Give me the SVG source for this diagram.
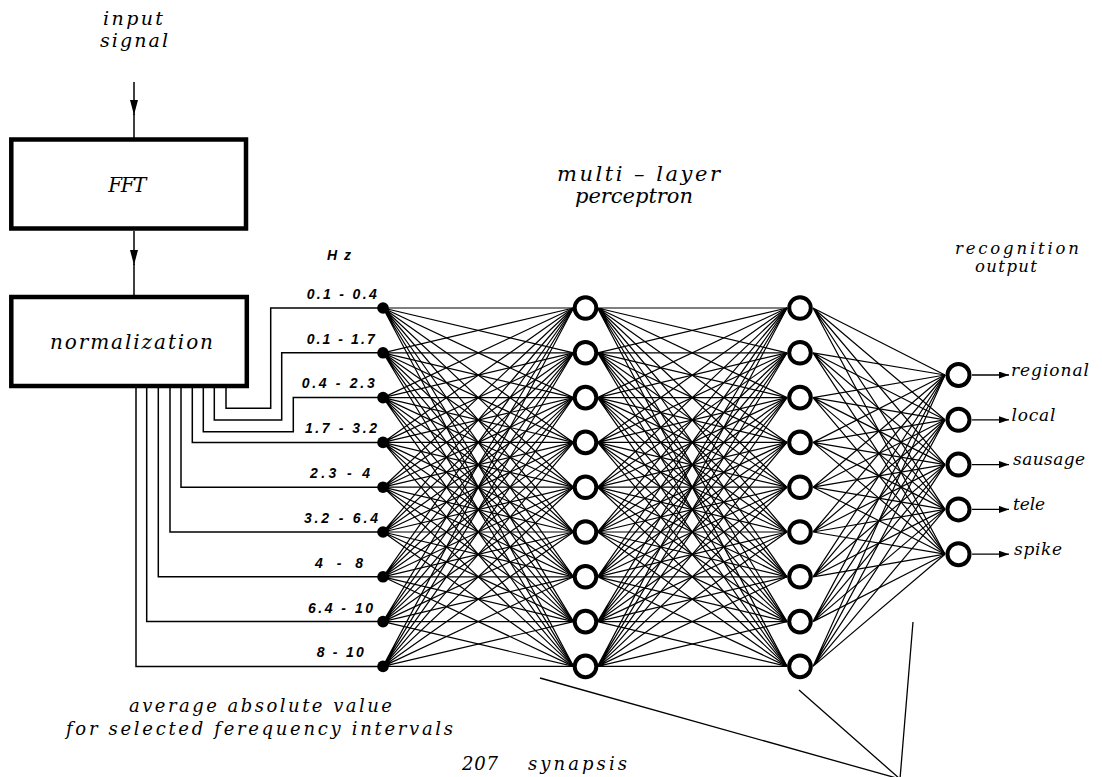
<svg xmlns="http://www.w3.org/2000/svg" width="1102" height="777" viewBox="0 0 1102 777">
<defs>
<style>
.box{fill:#fff;stroke:#000;stroke-width:4.5}
.t{font-family:"DejaVu Serif","Liberation Serif",serif;font-style:italic;fill:#000}
.hz{font-family:"Liberation Sans",Arial,sans-serif;font-style:italic;font-weight:bold;font-size:14px;fill:#000}
.wire{fill:none;stroke:#000;stroke-width:1.5}
.syn{fill:none;stroke:#000;stroke-width:1.2}
.ptr{fill:none;stroke:#000;stroke-width:1.3}
.dot{fill:#000}
.neuron{fill:#fff;stroke:#000;stroke-width:4}
</style>
<marker id="arrV" viewBox="0 0 15 8" markerWidth="15" markerHeight="8" refX="15" refY="4" orient="auto" markerUnits="userSpaceOnUse"><path d="M0 0L15 4L0 8z" fill="#000"/></marker>
<marker id="arrO" viewBox="0 0 10 7" markerWidth="10" markerHeight="7" refX="10" refY="3.5" orient="auto" markerUnits="userSpaceOnUse"><path d="M0 0L10 3.5L0 7z" fill="#000"/></marker>
</defs>
<rect width="1102" height="777" fill="#fff"/>

<g id="connectors">
<path class="wire" d="M134 82V115" marker-end="url(#arrV)"/>
<path class="wire" d="M134 114V138"/>
<path class="wire" d="M134 231V265" marker-end="url(#arrV)"/>
<path class="wire" d="M134 264V295"/>
<path class="wire" d="M226 388V408.3H270.7V308H383M214.3 388V420H281.7V352.8H383M203.3 388V431.7H293.3V397.6H383M192.3 388V442.4H383M181 388V487.2H383M170 388V532H383M158.3 388V576.8H383M146.7 388V621.6H383M136 388V666.4H383"/>
<g id="syn-input-hidden1" class="syn">
<path d="M383 308 573.5 308M383 308 573.5 352.8M383 308 573.5 397.6M383 308 573.5 442.4M383 308 573.5 487.2M383 308 573.5 532M383 308 573.5 576.8M383 308 573.5 621.6M383 308 573.5 666.4"/>
<path d="M383 352.8 573.5 308M383 352.8 573.5 352.8M383 352.8 573.5 397.6M383 352.8 573.5 442.4M383 352.8 573.5 487.2M383 352.8 573.5 532M383 352.8 573.5 576.8M383 352.8 573.5 621.6M383 352.8 573.5 666.4"/>
<path d="M383 397.6 573.5 308M383 397.6 573.5 352.8M383 397.6 573.5 397.6M383 397.6 573.5 442.4M383 397.6 573.5 487.2M383 397.6 573.5 532M383 397.6 573.5 576.8M383 397.6 573.5 621.6M383 397.6 573.5 666.4"/>
<path d="M383 442.4 573.5 308M383 442.4 573.5 352.8M383 442.4 573.5 397.6M383 442.4 573.5 442.4M383 442.4 573.5 487.2M383 442.4 573.5 532M383 442.4 573.5 576.8M383 442.4 573.5 621.6M383 442.4 573.5 666.4"/>
<path d="M383 487.2 573.5 308M383 487.2 573.5 352.8M383 487.2 573.5 397.6M383 487.2 573.5 442.4M383 487.2 573.5 487.2M383 487.2 573.5 532M383 487.2 573.5 576.8M383 487.2 573.5 621.6M383 487.2 573.5 666.4"/>
<path d="M383 532 573.5 308M383 532 573.5 352.8M383 532 573.5 397.6M383 532 573.5 442.4M383 532 573.5 487.2M383 532 573.5 532M383 532 573.5 576.8M383 532 573.5 621.6M383 532 573.5 666.4"/>
<path d="M383 576.8 573.5 308M383 576.8 573.5 352.8M383 576.8 573.5 397.6M383 576.8 573.5 442.4M383 576.8 573.5 487.2M383 576.8 573.5 532M383 576.8 573.5 576.8M383 576.8 573.5 621.6M383 576.8 573.5 666.4"/>
<path d="M383 621.6 573.5 308M383 621.6 573.5 352.8M383 621.6 573.5 397.6M383 621.6 573.5 442.4M383 621.6 573.5 487.2M383 621.6 573.5 532M383 621.6 573.5 576.8M383 621.6 573.5 621.6M383 621.6 573.5 666.4"/>
<path d="M383 666.4 573.5 308M383 666.4 573.5 352.8M383 666.4 573.5 397.6M383 666.4 573.5 442.4M383 666.4 573.5 487.2M383 666.4 573.5 532M383 666.4 573.5 576.8M383 666.4 573.5 621.6M383 666.4 573.5 666.4"/>
</g>
<g id="syn-hidden1-hidden2" class="syn">
<path d="M597.5 308 787 308M597.5 308 787 352.8M597.5 308 787 397.6M597.5 308 787 442.4M597.5 308 787 487.2M597.5 308 787 532M597.5 308 787 576.8M597.5 308 787 621.6M597.5 308 787 666.4"/>
<path d="M597.5 352.8 787 308M597.5 352.8 787 352.8M597.5 352.8 787 397.6M597.5 352.8 787 442.4M597.5 352.8 787 487.2M597.5 352.8 787 532M597.5 352.8 787 576.8M597.5 352.8 787 621.6M597.5 352.8 787 666.4"/>
<path d="M597.5 397.6 787 308M597.5 397.6 787 352.8M597.5 397.6 787 397.6M597.5 397.6 787 442.4M597.5 397.6 787 487.2M597.5 397.6 787 532M597.5 397.6 787 576.8M597.5 397.6 787 621.6M597.5 397.6 787 666.4"/>
<path d="M597.5 442.4 787 308M597.5 442.4 787 352.8M597.5 442.4 787 397.6M597.5 442.4 787 442.4M597.5 442.4 787 487.2M597.5 442.4 787 532M597.5 442.4 787 576.8M597.5 442.4 787 621.6M597.5 442.4 787 666.4"/>
<path d="M597.5 487.2 787 308M597.5 487.2 787 352.8M597.5 487.2 787 397.6M597.5 487.2 787 442.4M597.5 487.2 787 487.2M597.5 487.2 787 532M597.5 487.2 787 576.8M597.5 487.2 787 621.6M597.5 487.2 787 666.4"/>
<path d="M597.5 532 787 308M597.5 532 787 352.8M597.5 532 787 397.6M597.5 532 787 442.4M597.5 532 787 487.2M597.5 532 787 532M597.5 532 787 576.8M597.5 532 787 621.6M597.5 532 787 666.4"/>
<path d="M597.5 576.8 787 308M597.5 576.8 787 352.8M597.5 576.8 787 397.6M597.5 576.8 787 442.4M597.5 576.8 787 487.2M597.5 576.8 787 532M597.5 576.8 787 576.8M597.5 576.8 787 621.6M597.5 576.8 787 666.4"/>
<path d="M597.5 621.6 787 308M597.5 621.6 787 352.8M597.5 621.6 787 397.6M597.5 621.6 787 442.4M597.5 621.6 787 487.2M597.5 621.6 787 532M597.5 621.6 787 576.8M597.5 621.6 787 621.6M597.5 621.6 787 666.4"/>
<path d="M597.5 666.4 787 308M597.5 666.4 787 352.8M597.5 666.4 787 397.6M597.5 666.4 787 442.4M597.5 666.4 787 487.2M597.5 666.4 787 532M597.5 666.4 787 576.8M597.5 666.4 787 621.6M597.5 666.4 787 666.4"/>
</g>
<g id="syn-hidden2-output" class="syn">
<path d="M813 308 945 375M813 308 945 419.8M813 308 945 464.6M813 308 945 509.4M813 308 945 554.2"/>
<path d="M813 352.8 945 375M813 352.8 945 419.8M813 352.8 945 464.6M813 352.8 945 509.4M813 352.8 945 554.2"/>
<path d="M813 397.6 945 375M813 397.6 945 419.8M813 397.6 945 464.6M813 397.6 945 509.4M813 397.6 945 554.2"/>
<path d="M813 442.4 945 375M813 442.4 945 419.8M813 442.4 945 464.6M813 442.4 945 509.4M813 442.4 945 554.2"/>
<path d="M813 487.2 945 375M813 487.2 945 419.8M813 487.2 945 464.6M813 487.2 945 509.4M813 487.2 945 554.2"/>
<path d="M813 532 945 375M813 532 945 419.8M813 532 945 464.6M813 532 945 509.4M813 532 945 554.2"/>
<path d="M813 576.8 945 375M813 576.8 945 419.8M813 576.8 945 464.6M813 576.8 945 509.4M813 576.8 945 554.2"/>
<path d="M813 621.6 945 375M813 621.6 945 419.8M813 621.6 945 464.6M813 621.6 945 509.4M813 621.6 945 554.2"/>
<path d="M813 666.4 945 375M813 666.4 945 419.8M813 666.4 945 464.6M813 666.4 945 509.4M813 666.4 945 554.2"/>
</g>
<g id="output-arrows" class="ptr">
<path d="M972 375H1009" marker-end="url(#arrO)"/>
<path d="M972 419.8H1009" marker-end="url(#arrO)"/>
<path d="M972 464.6H1009" marker-end="url(#arrO)"/>
<path d="M972 509.4H1009" marker-end="url(#arrO)"/>
<path d="M972 554.2H1009" marker-end="url(#arrO)"/>
</g>
<g id="synapsis-pointers" class="ptr">
<path d="M540 678L900 779M799 690L900 779M913 622L900 779"/>
</g>
</g>

<g id="input-label"><text class="t" font-size="19" x="103" y="25" textLength="60" lengthAdjust="spacing">input</text><text class="t" font-size="19" x="100" y="47" textLength="68" lengthAdjust="spacing">signal</text></g>
<g id="fft"><rect class="box" x="11.3" y="139.5" width="234.7" height="89"/><text class="t" font-size="20" x="108.3" y="192" textLength="38" lengthAdjust="spacing">FFT</text></g>
<g id="normalization"><rect class="box" x="11.3" y="297" width="235.5" height="89"/><text class="t" font-size="20" x="50" y="349" textLength="163" lengthAdjust="spacing">normalization</text></g>

<g id="hz"><text class="hz" x="327" y="260" textLength="24" lengthAdjust="spacing">Hz</text></g>
<g id="in1"><circle class="dot" cx="383" cy="308" r="5.8"/><text class="hz" x="306.7" y="298.5" textLength="70" lengthAdjust="spacing">0.1 - 0.4</text></g>
<g id="in2"><circle class="dot" cx="383" cy="352.8" r="5.8"/><text class="hz" x="306.7" y="343.5" textLength="68" lengthAdjust="spacing">0.1 - 1.7</text></g>
<g id="in3"><circle class="dot" cx="383" cy="397.6" r="5.8"/><text class="hz" x="301.7" y="388" textLength="73" lengthAdjust="spacing">0.4 - 2.3</text></g>
<g id="in4"><circle class="dot" cx="383" cy="442.4" r="5.8"/><text class="hz" x="305" y="433" textLength="72" lengthAdjust="spacing">1.7 - 3.2</text></g>
<g id="in5"><circle class="dot" cx="383" cy="487.2" r="5.8"/><text class="hz" x="310" y="477.5" textLength="60" lengthAdjust="spacing">2.3 - 4</text></g>
<g id="in6"><circle class="dot" cx="383" cy="532" r="5.8"/><text class="hz" x="304" y="522.5" textLength="74" lengthAdjust="spacing">3.2 - 6.4</text></g>
<g id="in7"><circle class="dot" cx="383" cy="576.8" r="5.8"/><text class="hz" x="315" y="567.5" textLength="48" lengthAdjust="spacing">4 - 8</text></g>
<g id="in8"><circle class="dot" cx="383" cy="621.6" r="5.8"/><text class="hz" x="308" y="612.5" textLength="65" lengthAdjust="spacing">6.4 - 10</text></g>
<g id="in9"><circle class="dot" cx="383" cy="666.4" r="5.8"/><text class="hz" x="316.7" y="657" textLength="47" lengthAdjust="spacing">8 - 10</text></g>

<g id="h1-1"><circle class="neuron" cx="585.5" cy="308" r="10.8"/></g>
<g id="h1-2"><circle class="neuron" cx="585.5" cy="352.8" r="10.8"/></g>
<g id="h1-3"><circle class="neuron" cx="585.5" cy="397.6" r="10.8"/></g>
<g id="h1-4"><circle class="neuron" cx="585.5" cy="442.4" r="10.8"/></g>
<g id="h1-5"><circle class="neuron" cx="585.5" cy="487.2" r="10.8"/></g>
<g id="h1-6"><circle class="neuron" cx="585.5" cy="532" r="10.8"/></g>
<g id="h1-7"><circle class="neuron" cx="585.5" cy="576.8" r="10.8"/></g>
<g id="h1-8"><circle class="neuron" cx="585.5" cy="621.6" r="10.8"/></g>
<g id="h1-9"><circle class="neuron" cx="585.5" cy="666.4" r="10.8"/></g>

<g id="h2-1"><circle class="neuron" cx="800" cy="308" r="10.8"/></g>
<g id="h2-2"><circle class="neuron" cx="800" cy="352.8" r="10.8"/></g>
<g id="h2-3"><circle class="neuron" cx="800" cy="397.6" r="10.8"/></g>
<g id="h2-4"><circle class="neuron" cx="800" cy="442.4" r="10.8"/></g>
<g id="h2-5"><circle class="neuron" cx="800" cy="487.2" r="10.8"/></g>
<g id="h2-6"><circle class="neuron" cx="800" cy="532" r="10.8"/></g>
<g id="h2-7"><circle class="neuron" cx="800" cy="576.8" r="10.8"/></g>
<g id="h2-8"><circle class="neuron" cx="800" cy="621.6" r="10.8"/></g>
<g id="h2-9"><circle class="neuron" cx="800" cy="666.4" r="10.8"/></g>

<g id="out-regional"><circle class="neuron" cx="958.5" cy="375" r="11"/><text class="t" font-size="17" x="1011" y="375.5" textLength="78" lengthAdjust="spacing">regional</text></g>
<g id="out-local"><circle class="neuron" cx="958.5" cy="419.8" r="11"/><text class="t" font-size="17" x="1011.5" y="420.5" textLength="44" lengthAdjust="spacing">local</text></g>
<g id="out-sausage"><circle class="neuron" cx="958.5" cy="464.6" r="11"/><text class="t" font-size="17" x="1013" y="465" textLength="72" lengthAdjust="spacing">sausage</text></g>
<g id="out-tele"><circle class="neuron" cx="958.5" cy="509.4" r="11"/><text class="t" font-size="17" x="1013" y="510" textLength="32" lengthAdjust="spacing">tele</text></g>
<g id="out-spike"><circle class="neuron" cx="958.5" cy="554.2" r="11"/><text class="t" font-size="17" x="1014" y="555" textLength="48" lengthAdjust="spacing">spike</text></g>

<g id="mlp-label"><text class="t" font-size="21" x="557" y="181" textLength="163" lengthAdjust="spacing">multi – layer</text><text class="t" font-size="21" x="575" y="203" textLength="118" lengthAdjust="spacing">perceptron</text></g>
<g id="recog-label"><text class="t" font-size="16.5" x="955" y="254" textLength="124" lengthAdjust="spacing">recognition</text><text class="t" font-size="16.5" x="975" y="272" textLength="62" lengthAdjust="spacing">output</text></g>
<g id="avg-label"><text class="t" font-size="18" x="129" y="712" textLength="263" lengthAdjust="spacing">average absolute value</text><text class="t" font-size="18" x="66" y="735" textLength="387" lengthAdjust="spacing">for selected ferequency intervals</text></g>
<g id="synapsis-label"><text class="t" font-size="18" y="770"><tspan x="462" textLength="36" lengthAdjust="spacing">207</tspan><tspan x="528" textLength="99" lengthAdjust="spacing">synapsis</tspan></text></g>
</svg>
